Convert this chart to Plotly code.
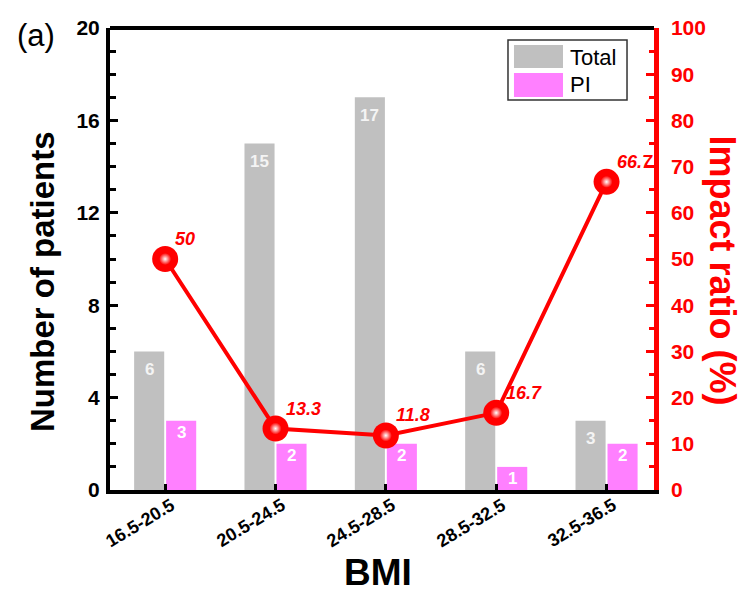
import plotly.graph_objects as go

categories = ["16.5-20.5", "20.5-24.5", "24.5-28.5", "28.5-32.5", "32.5-36.5"]
total = [6, 15, 17, 6, 3]
pi = [3, 2, 2, 1, 2]
impact = [50, 13.3, 11.8, 16.7, 66.7]
impact_labels = ["50", "13.3", "11.8", "16.7", "66.7"]
legend_names = ["Total", "PI"]

FONT = "Liberation Sans, Arial, sans-serif"
GRAY = "#c0c0c0"
PINK = "#ff80ff"
RED = "#ff0000"

fig = go.Figure()
fig.add_trace(go.Bar(x=categories, y=total, name=legend_names[0], showlegend=False,
                     marker=dict(color=GRAY, line=dict(width=0))))
fig.add_trace(go.Bar(x=categories, y=pi, name=legend_names[1], showlegend=False,
                     marker=dict(color=PINK, line=dict(width=0))))
fig.add_trace(go.Scatter(
    x=categories, y=impact, yaxis="y2", mode="lines+markers", showlegend=False,
    line=dict(color=RED, width=4),
    marker=dict(size=26, color=RED, line=dict(width=0)),
    cliponaxis=False,
))
# glossy highlight on the spheres
fig.add_trace(go.Scatter(
    x=categories, y=impact, yaxis="y2", mode="markers", showlegend=False,
    marker=dict(size=12, color=RED, gradient=dict(type="radial", color="#ffffff"),
                line=dict(width=0)),
    cliponaxis=False, hoverinfo="skip",
))

annotations = []
# bar value labels
for c, v in zip(categories, total):
    annotations.append(dict(x=c, y=v, xref="x", yref="y", text=str(v), showarrow=False,
                            xanchor="center", yanchor="middle", xshift=-16, yshift=-18,
                            font=dict(size=17, family=FONT, color="#f4f4f4", weight="bold")))
for c, v in zip(categories, pi):
    annotations.append(dict(x=c, y=v, xref="x", yref="y", text=str(v), showarrow=False,
                            xanchor="center", yanchor="middle", xshift=16, yshift=-12,
                            font=dict(size=17, family=FONT, color="white", weight="bold")))
# ratio labels
for c, v, t in zip(categories, impact, impact_labels):
    annotations.append(dict(x=c, y=v, xref="x", yref="y2", text=t, showarrow=False,
                            xanchor="left", yanchor="middle", xshift=8, yshift=20,
                            font=dict(size=18, family=FONT, color=RED, weight="bold", style="italic")))
# x tick labels (rotated, centred)
for c in categories:
    annotations.append(dict(x=c, y=0, xref="x", yref="paper", text=c, showarrow=False,
                            xanchor="center", yanchor="middle", xshift=-25, yshift=-33,
                            textangle=-31,
                            font=dict(size=18, family=FONT, color="black", weight="bold")))
# axis titles
annotations += [
    dict(text="Number of patients", xref="paper", yref="paper", x=-0.125, y=0.45,
         xanchor="center", yanchor="middle", textangle=-90, showarrow=False,
         font=dict(size=33, family=FONT, color="black", weight="bold")),
    dict(text="Impact ratio (%)", xref="paper", yref="paper", x=1.125, y=0.475,
         xanchor="center", yanchor="middle", textangle=90, showarrow=False,
         font=dict(size=36, family=FONT, color=RED, weight="bold")),
    dict(text="BMI", xref="paper", yref="paper", x=0.493, y=-0.178,
         xanchor="center", yanchor="middle", showarrow=False,
         font=dict(size=37, family=FONT, color="black", weight="bold")),
    dict(text="(a)", xref="paper", yref="paper", x=-0.136, y=0.983,
         xanchor="center", yanchor="middle", showarrow=False,
         font=dict(size=31, family=FONT, color="black")),
]
# legend (drawn)
annotations += [
    dict(text=legend_names[0], xref="paper", yref="paper", x=0.842, y=0.937,
         xanchor="left", yanchor="middle", showarrow=False,
         font=dict(size=22, family=FONT, color="black")),
    dict(text=legend_names[1], xref="paper", yref="paper", x=0.842, y=0.877,
         xanchor="left", yanchor="middle", showarrow=False,
         font=dict(size=22, family=FONT, color="black")),
]

shapes = [
    dict(type="line", xref="paper", yref="paper", x0=0, x1=1, y0=1, y1=1,
         line=dict(color="black", width=4)),
    dict(type="rect", xref="paper", yref="paper", x0=0.7316, x1=0.9504, y0=0.8442, y1=0.974,
         line=dict(color="#333333", width=1.5), fillcolor="white"),
    dict(type="rect", xref="paper", yref="paper", x0=0.7426, x1=0.8327, y0=0.9134, y1=0.9632,
         line=dict(width=0), fillcolor=GRAY),
    dict(type="rect", xref="paper", yref="paper", x0=0.7426, x1=0.8327, y0=0.8506, y1=0.9026,
         line=dict(width=0), fillcolor=PINK),
]

fig.update_layout(
    width=747, height=594,
    margin=dict(l=110, r=93, t=28, b=104),
    plot_bgcolor="white", paper_bgcolor="white",
    barmode="group", bargap=0.42, bargroupgap=0.06,
    font=dict(family=FONT, color="black"),
    showlegend=False,
    xaxis=dict(
        type="category", range=[-0.5, 4.43], automargin=False,
        showline=True, linecolor="black", linewidth=4,
        ticks="inside", ticklen=6, tickwidth=3, tickcolor="black",
        showticklabels=False, showgrid=False, zeroline=False,
    ),
    yaxis=dict(
        range=[0, 20], tickvals=[0, 4, 8, 12, 16, 20], automargin=False,
        showline=True, linecolor="black", linewidth=4,
        ticks="inside", ticklen=8, tickwidth=3, tickcolor="black",
        minor=dict(dtick=1, ticks="inside", ticklen=6, tickwidth=3, tickcolor="black"),
        tickfont=dict(size=21, family=FONT, weight="bold", color="black"),
        ticklabelstandoff=2,
        showgrid=False, zeroline=False,
    ),
    yaxis2=dict(
        range=[0, 100], dtick=10, overlaying="y", side="right", automargin=False,
        showline=True, linecolor=RED, linewidth=4.5,
        ticks="inside", ticklen=8, tickwidth=3, tickcolor=RED,
        minor=dict(dtick=5, ticks="inside", ticklen=5, tickwidth=3, tickcolor=RED),
        tickfont=dict(size=21, family=FONT, weight="bold", color=RED),
        ticklabelstandoff=8,
        showgrid=False, zeroline=False,
    ),
    shapes=shapes,
    annotations=annotations,
)

fig.write_html("out.html", config={"displayModeBar": False},
               post_script="document.body.style.margin='0';document.body.style.padding='0';document.body.style.overflow='hidden';")
